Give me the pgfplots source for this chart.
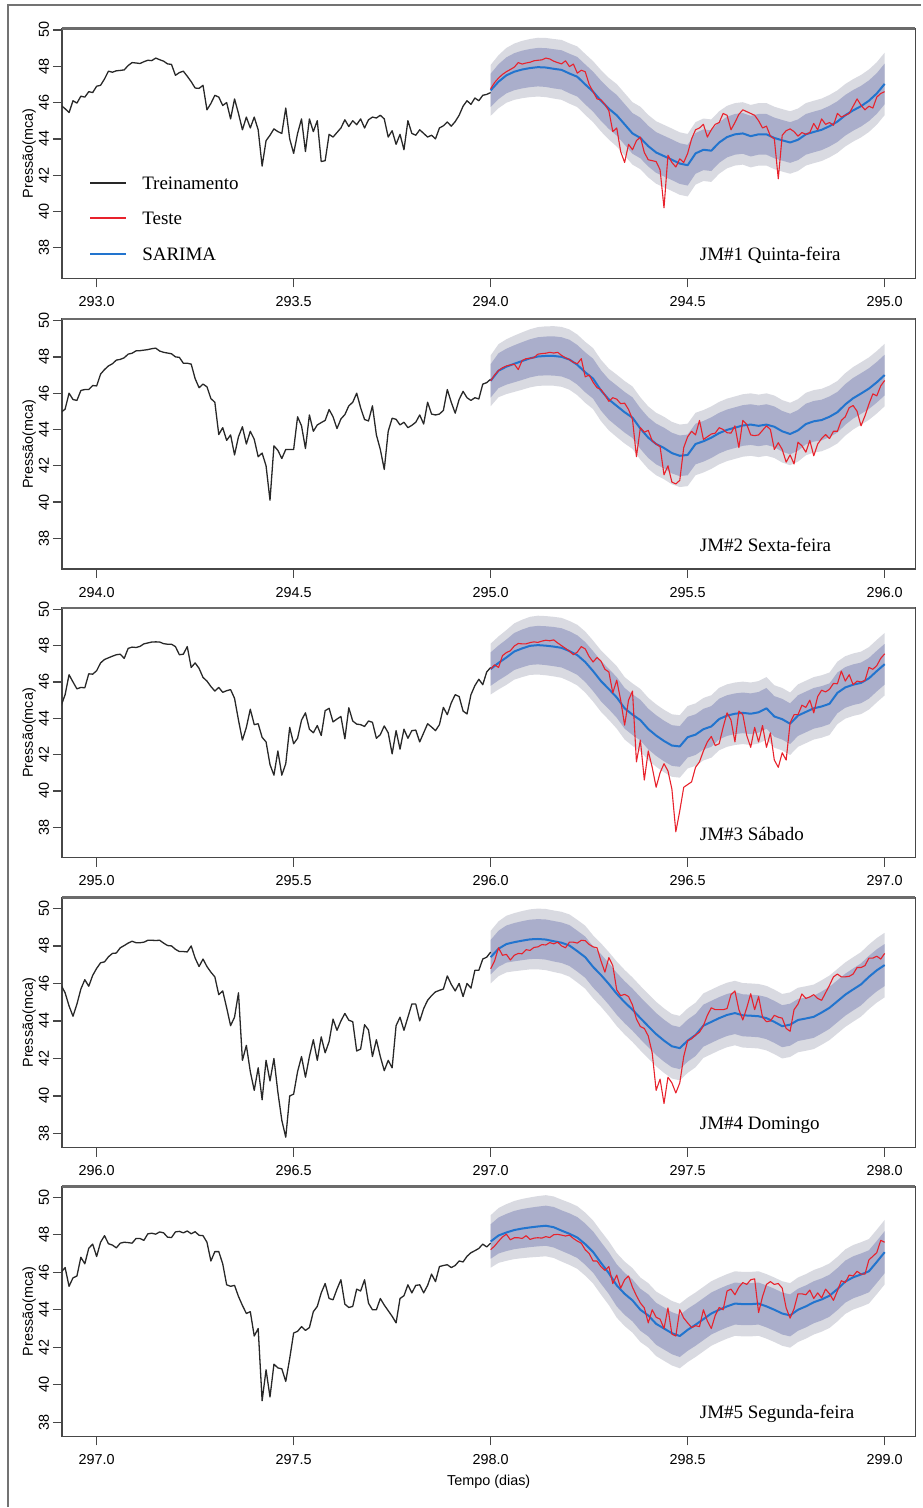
\documentclass[border=0pt]{standalone}
\usepackage{fontspec}
\setmainfont{Liberation Serif}
\newfontfamily\sansfont{Liberation Sans}
\usepackage{pgfplots}
\usepackage{pgfplotstable}
\usepgfplotslibrary{fillbetween}
\pgfplotsset{compat=1.18}

\definecolor{trainc}{RGB}{40,40,40}
\definecolor{testc}{RGB}{232,34,44}
\definecolor{sarimac}{RGB}{34,116,206}
\definecolor{band80}{RGB}{170,174,203}
\definecolor{band95}{RGB}{217,218,225}
\newcommand\ticksize{\sansfont\fontsize{7.2}{8.5}\selectfont}
\newcommand\textsize{\fontsize{9.5}{11}\selectfont}

% forecast tables: mean and 80/95 % limits
\pgfplotstableread{
x f lo95 lo80 hi80 hi95
294.00 46.67 45.27 45.75 47.59 48.07
294.02 47.15 45.69 46.19 48.11 48.61
294.04 47.50 45.99 46.51 48.49 49.01
294.06 47.70 46.15 46.68 48.72 49.25
294.08 47.82 46.24 46.78 48.86 49.40
294.10 47.90 46.30 46.85 48.95 49.50
294.12 47.95 46.33 46.89 49.01 49.57
294.14 47.93 46.30 46.86 49.00 49.56
294.16 47.86 46.22 46.78 48.94 49.50
294.18 47.80 46.15 46.72 48.88 49.45
294.20 47.60 45.94 46.51 48.69 49.26
294.22 47.42 45.75 46.33 48.51 49.09
294.24 47.00 45.32 45.90 48.10 48.68
294.26 46.60 44.92 45.50 47.70 48.28
294.28 46.10 44.41 44.99 47.21 47.79
294.30 45.66 43.96 44.55 46.77 47.36
294.32 45.30 43.58 44.18 46.42 47.02
294.34 44.80 43.08 43.68 45.92 46.52
294.36 44.30 42.58 43.18 45.42 46.02
294.38 44.05 42.33 42.93 45.17 45.77
294.40 43.60 41.88 42.48 44.72 45.32
294.42 43.25 41.53 42.13 44.37 44.97
294.44 43.05 41.33 41.93 44.17 44.77
294.46 42.85 41.13 41.73 43.97 44.57
294.48 42.64 40.92 41.52 43.76 44.36
294.50 42.55 40.83 41.43 43.67 44.27
294.52 43.20 41.48 42.08 44.32 44.92
294.54 43.40 41.68 42.28 44.52 45.12
294.56 43.35 41.63 42.23 44.47 45.07
294.58 43.80 42.08 42.68 44.92 45.52
294.60 44.10 42.38 42.98 45.22 45.82
294.62 44.25 42.53 43.13 45.37 45.97
294.64 44.30 42.58 43.18 45.42 46.02
294.66 44.15 42.43 43.03 45.27 45.87
294.68 44.25 42.53 43.13 45.37 45.97
294.70 44.25 42.53 43.13 45.37 45.97
294.72 44.05 42.33 42.93 45.17 45.77
294.74 43.92 42.20 42.80 45.04 45.64
294.76 43.80 42.08 42.68 44.92 45.52
294.78 43.95 42.23 42.83 45.07 45.67
294.80 44.25 42.53 43.13 45.37 45.97
294.82 44.38 42.66 43.26 45.50 46.10
294.84 44.50 42.78 43.38 45.62 46.22
294.86 44.70 42.98 43.58 45.82 46.42
294.88 44.95 43.23 43.83 46.07 46.67
294.90 45.30 43.58 44.18 46.42 47.02
294.92 45.57 43.85 44.45 46.69 47.29
294.94 45.80 44.08 44.68 46.92 47.52
294.96 46.10 44.38 44.98 47.22 47.82
294.98 46.50 44.78 45.38 47.62 48.22
295.00 47.03 45.31 45.91 48.15 48.75
}\fcA

\pgfplotstableread{
x f lo95 lo80 hi80 hi95
295.00 46.68 45.28 45.76 47.60 48.08
295.02 47.24 45.78 46.28 48.20 48.70
295.04 47.46 45.95 46.47 48.45 48.97
295.06 47.62 46.07 46.60 48.64 49.17
295.08 47.77 46.19 46.73 48.81 49.35
295.10 47.92 46.32 46.87 48.97 49.52
295.12 48.02 46.40 46.96 49.08 49.64
295.14 48.05 46.42 46.98 49.12 49.68
295.16 48.05 46.41 46.97 49.13 49.69
295.18 48.00 46.35 46.92 49.08 49.65
295.20 47.85 46.19 46.76 48.94 49.51
295.22 47.56 45.89 46.47 48.65 49.23
295.24 47.15 45.47 46.05 48.25 48.83
295.26 46.80 45.12 45.70 47.90 48.48
295.28 46.15 44.46 45.04 47.26 47.84
295.30 45.65 43.95 44.54 46.76 47.35
295.32 45.30 43.58 44.18 46.42 47.02
295.34 44.95 43.23 43.83 46.07 46.67
295.36 44.65 42.93 43.53 45.77 46.37
295.38 44.05 42.33 42.93 45.17 45.77
295.40 43.55 41.83 42.43 44.67 45.27
295.42 43.20 41.48 42.08 44.32 44.92
295.44 42.98 41.26 41.86 44.10 44.70
295.46 42.70 40.98 41.58 43.82 44.42
295.48 42.55 40.83 41.43 43.67 44.27
295.50 42.60 40.88 41.48 43.72 44.32
295.52 43.20 41.48 42.08 44.32 44.92
295.54 43.35 41.63 42.23 44.47 45.07
295.56 43.55 41.83 42.43 44.67 45.27
295.58 43.80 42.08 42.68 44.92 45.52
295.60 43.98 42.26 42.86 45.10 45.70
295.62 44.10 42.38 42.98 45.22 45.82
295.64 44.22 42.50 43.10 45.34 45.94
295.66 44.27 42.55 43.15 45.39 45.99
295.68 44.20 42.48 43.08 45.32 45.92
295.70 44.27 42.55 43.15 45.39 45.99
295.72 44.15 42.43 43.03 45.27 45.87
295.74 43.90 42.18 42.78 45.02 45.62
295.76 43.75 42.03 42.63 44.87 45.47
295.78 43.95 42.23 42.83 45.07 45.67
295.80 44.30 42.58 43.18 45.42 46.02
295.82 44.45 42.73 43.33 45.57 46.17
295.84 44.52 42.80 43.40 45.64 46.24
295.86 44.70 42.98 43.58 45.82 46.42
295.88 44.95 43.23 43.83 46.07 46.67
295.90 45.38 43.66 44.26 46.50 47.10
295.92 45.72 44.00 44.60 46.84 47.44
295.94 45.98 44.26 44.86 47.10 47.70
295.96 46.25 44.53 45.13 47.37 47.97
295.98 46.60 44.88 45.48 47.72 48.32
296.00 47.00 45.28 45.88 48.12 48.72
}\fcB

\pgfplotstableread{
x f lo95 lo80 hi80 hi95
296.00 46.71 45.31 45.79 47.63 48.11
296.02 47.05 45.59 46.09 48.01 48.51
296.04 47.35 45.84 46.36 48.34 48.86
296.06 47.68 46.13 46.66 48.70 49.23
296.08 47.85 46.27 46.81 48.89 49.43
296.10 47.99 46.39 46.94 49.04 49.59
296.12 48.03 46.41 46.97 49.09 49.65
296.14 48.00 46.37 46.93 49.07 49.63
296.16 47.95 46.31 46.87 49.03 49.59
296.18 47.88 46.23 46.80 48.96 49.53
296.20 47.70 46.04 46.61 48.79 49.36
296.22 47.48 45.81 46.39 48.57 49.15
296.24 47.10 45.42 46.00 48.20 48.78
296.26 46.60 44.92 45.50 47.70 48.28
296.28 46.05 44.36 44.94 47.16 47.74
296.30 45.61 43.91 44.50 46.72 47.31
296.32 45.15 43.43 44.03 46.27 46.87
296.34 44.55 42.83 43.43 45.67 46.27
296.36 44.20 42.48 43.08 45.32 45.92
296.38 43.90 42.18 42.78 45.02 45.62
296.40 43.41 41.69 42.29 44.53 45.13
296.42 43.05 41.33 41.93 44.17 44.77
296.44 42.75 41.03 41.63 43.87 44.47
296.46 42.50 40.78 41.38 43.62 44.22
296.48 42.45 40.73 41.33 43.57 44.17
296.50 42.96 41.24 41.84 44.08 44.68
296.52 43.10 41.38 41.98 44.22 44.82
296.54 43.40 41.68 42.28 44.52 45.12
296.56 43.55 41.83 42.43 44.67 45.27
296.58 43.96 42.24 42.84 45.08 45.68
296.60 44.15 42.43 43.03 45.27 45.87
296.62 44.25 42.53 43.13 45.37 45.97
296.64 44.30 42.58 43.18 45.42 46.02
296.66 44.25 42.53 43.13 45.37 45.97
296.68 44.33 42.61 43.21 45.45 46.05
296.70 44.55 42.83 43.43 45.67 46.27
296.72 44.10 42.38 42.98 45.22 45.82
296.74 43.95 42.23 42.83 45.07 45.67
296.76 43.70 41.98 42.58 44.82 45.42
296.78 44.15 42.43 43.03 45.27 45.87
296.80 44.35 42.63 43.23 45.47 46.07
296.82 44.55 42.83 43.43 45.67 46.27
296.84 44.65 42.93 43.53 45.77 46.37
296.86 44.80 43.08 43.68 45.92 46.52
296.88 45.40 43.68 44.28 46.52 47.12
296.90 45.70 43.98 44.58 46.82 47.42
296.92 45.85 44.13 44.73 46.97 47.57
296.94 45.95 44.23 44.83 47.07 47.67
296.96 46.20 44.48 45.08 47.32 47.92
296.98 46.60 44.88 45.48 47.72 48.32
297.00 46.98 45.26 45.86 48.10 48.70
}\fcC

\pgfplotstableread{
x f lo95 lo80 hi80 hi95
297.00 47.40 46.00 46.48 48.32 48.80
297.02 47.85 46.39 46.89 48.81 49.31
297.04 48.10 46.59 47.11 49.09 49.61
297.06 48.20 46.65 47.18 49.22 49.75
297.08 48.28 46.70 47.24 49.32 49.86
297.10 48.35 46.75 47.30 49.40 49.95
297.12 48.37 46.75 47.31 49.43 49.99
297.14 48.34 46.71 47.27 49.41 49.97
297.16 48.25 46.61 47.17 49.33 49.89
297.18 48.17 46.52 47.09 49.25 49.82
297.20 48.02 46.36 46.93 49.11 49.68
297.22 47.72 46.05 46.63 48.81 49.39
297.24 47.40 45.72 46.30 48.50 49.08
297.26 46.88 45.20 45.78 47.98 48.56
297.28 46.45 44.76 45.34 47.56 48.14
297.30 45.97 44.27 44.86 47.08 47.67
297.32 45.45 43.73 44.33 46.57 47.17
297.34 45.00 43.28 43.88 46.12 46.72
297.36 44.60 42.88 43.48 45.72 46.32
297.38 44.15 42.43 43.03 45.27 45.87
297.40 43.72 42.00 42.60 44.84 45.44
297.42 43.30 41.58 42.18 44.42 45.02
297.44 42.95 41.23 41.83 44.07 44.67
297.46 42.65 40.93 41.53 43.77 44.37
297.48 42.55 40.83 41.43 43.67 44.27
297.50 42.95 41.23 41.83 44.07 44.67
297.52 43.25 41.53 42.13 44.37 44.97
297.54 43.75 42.03 42.63 44.87 45.47
297.56 43.95 42.23 42.83 45.07 45.67
297.58 44.15 42.43 43.03 45.27 45.87
297.60 44.32 42.60 43.20 45.44 46.04
297.62 44.42 42.70 43.30 45.54 46.14
297.64 44.30 42.58 43.18 45.42 46.02
297.66 44.28 42.56 43.16 45.40 46.00
297.68 44.25 42.53 43.13 45.37 45.97
297.70 44.15 42.43 43.03 45.27 45.87
297.72 43.95 42.23 42.83 45.07 45.67
297.74 43.72 42.00 42.60 44.84 45.44
297.76 43.80 42.08 42.68 44.92 45.52
297.78 44.05 42.33 42.93 45.17 45.77
297.80 44.13 42.41 43.01 45.25 45.85
297.82 44.22 42.50 43.10 45.34 45.94
297.84 44.45 42.73 43.33 45.57 46.17
297.86 44.70 42.98 43.58 45.82 46.42
297.88 45.05 43.33 43.93 46.17 46.77
297.90 45.40 43.68 44.28 46.52 47.12
297.92 45.68 43.96 44.56 46.80 47.40
297.94 45.95 44.23 44.83 47.07 47.67
297.96 46.35 44.63 45.23 47.47 48.07
297.98 46.70 44.98 45.58 47.82 48.42
298.00 46.98 45.26 45.86 48.10 48.70
}\fcD

\pgfplotstableread{
x f lo95 lo80 hi80 hi95
298.00 47.64 46.24 46.72 48.56 49.04
298.02 47.96 46.50 47.00 48.92 49.42
298.04 48.12 46.61 47.13 49.11 49.63
298.06 48.25 46.70 47.23 49.27 49.80
298.08 48.33 46.75 47.29 49.37 49.91
298.10 48.39 46.79 47.34 49.44 49.99
298.12 48.44 46.82 47.38 49.50 50.06
298.14 48.48 46.85 47.41 49.55 50.11
298.16 48.40 46.76 47.32 49.48 50.04
298.18 48.22 46.57 47.14 49.30 49.87
298.20 48.05 46.39 46.96 49.14 49.71
298.22 47.85 46.18 46.76 48.94 49.52
298.24 47.50 45.82 46.40 48.60 49.18
298.26 47.08 45.40 45.98 48.18 48.76
298.28 46.50 44.81 45.39 47.61 48.19
298.30 45.95 44.25 44.84 47.06 47.65
298.32 45.30 43.58 44.18 46.42 47.02
298.34 44.85 43.13 43.73 45.97 46.57
298.36 44.50 42.78 43.38 45.62 46.22
298.38 44.00 42.28 42.88 45.12 45.72
298.40 43.70 41.98 42.58 44.82 45.42
298.42 43.25 41.53 42.13 44.37 44.97
298.44 43.00 41.28 41.88 44.12 44.72
298.46 42.75 41.03 41.63 43.87 44.47
298.48 42.60 40.88 41.48 43.72 44.32
298.50 42.93 41.21 41.81 44.05 44.65
298.52 43.20 41.48 42.08 44.32 44.92
298.54 43.50 41.78 42.38 44.62 45.22
298.56 43.80 42.08 42.68 44.92 45.52
298.58 44.00 42.28 42.88 45.12 45.72
298.60 44.18 42.46 43.06 45.30 45.90
298.62 44.33 42.61 43.21 45.45 46.05
298.64 44.30 42.58 43.18 45.42 46.02
298.66 44.30 42.58 43.18 45.42 46.02
298.68 44.33 42.61 43.21 45.45 46.05
298.70 44.18 42.46 43.06 45.30 45.90
298.72 44.00 42.28 42.88 45.12 45.72
298.74 43.80 42.08 42.68 44.92 45.52
298.76 43.70 41.98 42.58 44.82 45.42
298.78 44.00 42.28 42.88 45.12 45.72
298.80 44.18 42.46 43.06 45.30 45.90
298.82 44.40 42.68 43.28 45.52 46.12
298.84 44.55 42.83 43.43 45.67 46.27
298.86 44.75 43.03 43.63 45.87 46.47
298.88 45.10 43.38 43.98 46.22 46.82
298.90 45.50 43.78 44.38 46.62 47.22
298.92 45.73 44.01 44.61 46.85 47.45
298.94 45.88 44.16 44.76 47.00 47.60
298.96 46.05 44.33 44.93 47.17 47.77
298.98 46.55 44.83 45.43 47.67 48.27
299.00 47.07 45.35 45.95 48.19 48.79
}\fcE

\pgfkeys{/pgf/number format/assume math mode=true}

\pgfplotsset{
  panel/.style={
    width=427pt, height=125pt, scale only axis, anchor=north west,
    axis line style={black!72, line width=0.65pt},
    tick align=outside, major tick length=4.5pt,
    every tick/.style={black!72, line width=0.65pt},
    xtick pos=left, ytick pos=left,
    ytick={38,40,...,50},
    tick label style={font=\ticksize},
    xticklabel style={/pgf/number format/fixed, /pgf/number format/fixed zerofill,
      /pgf/number format/precision=1, /pgf/number format/1000 sep={},
      anchor=north, inner sep=0pt, yshift=-4.4pt},
    yticklabel style={xshift=-1.8pt, rotate=90, anchor=south, inner sep=0pt},
    ylabel={Pressão(mca)},
    ylabel style={font=\ticksize, at={(axis description cs:0,0.5)}, anchor=south, yshift=9.5pt},
    every axis plot/.append style={line join=round},
    extra description/.code={\draw[black!58, line width=1.3pt] (0,1) -- (1,1);},
  },
  train/.style={trainc, line width=0.65pt},
  test/.style={testc, line width=0.55pt},
  fcline/.style={sarimac, line width=1.0pt},
}

% prediction bands of one forecast table
\newcommand\bands[1]{%
  \addplot[draw=none, name path=u95, forget plot] table[x=x, y=hi95] {#1};
  \addplot[draw=none, name path=l95, forget plot] table[x=x, y=lo95] {#1};
  \addplot[draw=none, name path=u80, forget plot] table[x=x, y=hi80] {#1};
  \addplot[draw=none, name path=l80, forget plot] table[x=x, y=lo80] {#1};
  \addplot[fill=band95, draw=none, forget plot] fill between[of=u95 and l95];
  \addplot[fill=band80, draw=none, forget plot] fill between[of=u80 and l80];
}

\begin{document}
\begin{tikzpicture}
\path (0,0) rectangle (461pt,-754pt);
\draw[black!55, line width=1pt] (4pt,-754pt) -- (4pt,-2.5pt) -- (461pt,-2.5pt);

% ---------- JM#1 ----------
\begin{axis}[panel, at={(31pt,-14.25pt)},
  xmin=292.912, xmax=295.078, ymin=36.32, ymax=50.08,
  xtick={293,293.5,...,295},
  legend cell align=left,
  legend style={at={(0,1)}, anchor=north west, xshift=13.5pt, yshift=-72pt,
    draw=none, fill=none, inner sep=0pt, row sep=6pt, column sep=5.5pt,
    font=\textsize},
  legend image code/.code={\draw[#1, line width=1pt] (0pt,0.8pt) -- (18pt,0.8pt);},
]
\bands{\fcA}
\addplot[train, forget plot] coordinates {
(292.91,45.84)(292.92,45.66)(292.93,45.45)(292.94,46.1)(292.95,45.97)(292.96,46.35)(292.97,46.3)(292.98,46.6)(292.99,46.55)
(293.00,46.9)(293.01,46.95)(293.02,47.3)(293.03,47.73)(293.04,47.67)(293.05,47.75)(293.06,47.77)(293.07,47.8)(293.08,48.04)(293.09,48.2)
(293.10,48.18)(293.11,48.15)(293.12,48.25)(293.13,48.33)(293.14,48.31)(293.15,48.45)(293.16,48.36)(293.17,48.28)(293.18,48.13)(293.19,48.1)
(293.20,47.5)(293.21,47.65)(293.22,47.73)(293.23,47.45)(293.24,47.15)(293.25,46.8)(293.26,46.78)(293.27,46.95)(293.28,45.6)(293.29,45.95)
(293.30,46.4)(293.31,46.3)(293.32,45.84)(293.33,46.0)(293.34,45.1)(293.35,46.2)(293.36,45.4)(293.37,44.5)(293.38,45.2)(293.39,44.6)
(293.40,45.2)(293.41,44.5)(293.42,42.5)(293.43,43.9)(293.44,44.2)(293.45,44.55)(293.46,44.4)(293.47,44.3)(293.48,45.7)(293.49,44.0)
(293.50,43.2)(293.51,44.3)(293.52,45.1)(293.53,43.3)(293.54,45.1)(293.55,44.4)(293.56,45.0)(293.57,42.75)(293.58,42.8)(293.59,44.25)
(293.60,44.1)(293.61,44.35)(293.62,44.6)(293.63,45.05)(293.64,44.68)(293.65,45.0)(293.66,44.78)(293.67,45.1)(293.68,44.6)(293.69,45.05)
(293.70,45.2)(293.71,45.15)(293.72,45.3)(293.73,45.1)(293.74,44.1)(293.75,44.45)(293.76,43.7)(293.77,44.25)(293.78,43.4)(293.79,45.0)
(293.80,44.3)(293.81,44.2)(293.82,44.5)(293.83,44.3)(293.84,44.1)(293.85,44.2)(293.86,44.0)(293.87,44.6)(293.88,44.72)(293.89,44.93)
(293.90,44.7)(293.91,44.95)(293.92,45.3)(293.93,45.8)(293.94,46.1)(293.95,45.9)(293.96,46.25)(293.97,46.1)(293.98,46.4)(293.99,46.45)(294.00,46.55)
};
\addplot[fcline, forget plot] table[x=x, y=f] {\fcA};
\addplot[test, forget plot] coordinates {
(294.00,46.76)(294.01,47.1)(294.02,47.35)(294.03,47.55)(294.04,47.7)(294.05,47.82)(294.06,47.95)(294.07,48.2)(294.08,48.12)(294.09,48.18)
(294.10,48.22)(294.11,48.3)(294.12,48.33)(294.13,48.35)(294.14,48.45)(294.15,48.4)(294.16,48.28)(294.17,48.2)(294.18,48.13)(294.19,48.3)
(294.20,47.98)(294.21,48.12)(294.22,47.62)(294.23,47.78)(294.24,47.7)(294.25,47.0)(294.26,46.6)(294.27,46.2)(294.28,46.15)(294.29,45.9)
(294.30,45.55)(294.31,44.4)(294.32,44.6)(294.33,43.3)(294.34,42.7)(294.35,43.7)(294.36,43.4)(294.37,43.9)(294.38,44.1)(294.39,43.25)
(294.40,42.85)(294.41,42.8)(294.42,42.75)(294.43,42.3)(294.44,40.2)(294.45,43.1)(294.46,42.7)(294.47,42.45)(294.48,42.9)(294.49,42.7)
(294.50,43.2)(294.51,44.0)(294.52,44.5)(294.53,44.6)(294.54,44.8)(294.55,44.1)(294.56,44.5)(294.57,44.8)(294.58,44.9)(294.59,45.4)
(294.60,45.3)(294.61,44.5)(294.62,44.9)(294.63,45.35)(294.64,45.6)(294.65,45.5)(294.66,45.4)(294.67,45.3)(294.68,45.0)(294.69,44.6)
(294.70,44.7)(294.71,44.15)(294.72,44.0)(294.73,41.8)(294.74,44.2)(294.75,44.45)(294.76,44.55)(294.77,44.4)(294.78,44.15)(294.79,44.35)
(294.80,44.25)(294.81,44.35)(294.82,44.85)(294.83,44.5)(294.84,45.1)(294.85,44.8)(294.86,44.9)(294.87,44.75)(294.88,45.4)(294.89,45.2)
(294.90,45.3)(294.91,45.4)(294.92,45.8)(294.93,46.2)(294.94,45.85)(294.95,45.6)(294.96,45.8)(294.97,45.7)(294.98,46.3)(294.99,46.5)(295.00,46.6)
};
\addlegendimage{train}
\addlegendentry{Treinamento}
\addlegendimage{test}
\addlegendentry{Teste}
\addlegendimage{fcline}
\addlegendentry{SARIMA}
\node[anchor=base west, font=\textsize, inner sep=0pt] at (axis description cs:0.747,0.071) {JM\#1 Quinta-feira};
\end{axis}

% ---------- JM#2 ----------
\begin{axis}[panel, at={(31pt,-159.65pt)},
  xmin=293.912, xmax=296.078, ymin=36.32, ymax=50.08,
  xtick={294,294.5,...,296},
]
\bands{\fcB}
\addplot[train] coordinates {
(293.91,44.95)(293.92,45.12)(293.93,46.0)(293.94,45.65)(293.95,45.6)(293.96,46.15)(293.97,46.2)(293.98,46.2)(293.99,46.42)
(294.00,46.4)(294.01,47.05)(294.02,47.3)(294.03,47.5)(294.04,47.62)(294.05,47.82)(294.06,47.86)(294.07,47.95)(294.08,48.15)(294.09,48.2)
(294.10,48.33)(294.11,48.34)(294.12,48.37)(294.13,48.4)(294.14,48.45)(294.15,48.48)(294.16,48.32)(294.17,48.25)(294.18,48.21)(294.19,48.17)
(294.20,48.0)(294.21,47.97)(294.22,47.65)(294.23,47.65)(294.24,47.6)(294.25,46.8)(294.26,46.3)(294.27,46.5)(294.28,46.35)(294.29,45.7)
(294.30,45.5)(294.31,43.72)(294.32,44.1)(294.33,43.4)(294.34,43.7)(294.35,42.6)(294.36,43.6)(294.37,44.15)(294.38,43.2)(294.39,43.9)
(294.40,43.46)(294.41,42.5)(294.42,42.7)(294.43,42.0)(294.44,40.1)(294.45,43.1)(294.46,42.85)(294.47,42.4)(294.48,42.9)(294.49,42.9)
(294.50,42.9)(294.51,44.7)(294.52,44.2)(294.53,42.95)(294.54,44.8)(294.55,43.9)(294.56,44.25)(294.57,44.38)(294.58,44.5)(294.59,45.1)
(294.60,44.7)(294.61,44.05)(294.62,44.58)(294.63,44.82)(294.64,45.3)(294.65,45.5)(294.66,46.0)(294.67,45.2)(294.68,44.55)(294.69,44.47)
(294.70,45.3)(294.71,43.7)(294.72,42.9)(294.73,41.8)(294.74,43.9)(294.75,44.62)(294.76,44.56)(294.77,44.25)(294.78,44.4)(294.79,44.1)
(294.80,44.23)(294.81,44.4)(294.82,44.8)(294.83,44.3)(294.84,45.5)(294.85,44.85)(294.86,44.8)(294.87,44.85)(294.88,45.05)(294.89,46.2)
(294.90,45.5)(294.91,44.9)(294.92,45.65)(294.93,46.1)(294.94,45.75)(294.95,45.6)(294.96,45.75)(294.97,45.68)(294.98,46.5)(294.99,46.58)(295.00,46.77)
};
\addplot[fcline] table[x=x, y=f] {\fcB};
\addplot[test] coordinates {
(295.00,46.68)(295.01,47.0)(295.02,47.25)(295.03,47.4)(295.04,47.5)(295.05,47.55)(295.06,47.6)(295.07,47.3)(295.08,47.8)(295.09,47.9)
(295.10,47.92)(295.11,47.96)(295.12,48.15)(295.13,48.18)(295.14,48.2)(295.15,48.25)(295.16,48.21)(295.17,48.25)(295.18,48.08)(295.19,47.95)
(295.20,47.85)(295.21,47.7)(295.22,47.62)(295.23,47.9)(295.24,46.9)(295.25,47.0)(295.26,46.6)(295.27,46.3)(295.28,46.2)(295.29,45.9)
(295.30,45.55)(295.31,45.75)(295.32,45.67)(295.33,45.42)(295.34,45.45)(295.35,45.1)(295.36,44.56)(295.37,42.5)(295.38,44.1)(295.39,43.85)
(295.40,43.95)(295.41,43.38)(295.42,43.2)(295.43,43.05)(295.44,41.5)(295.45,42.0)(295.46,41.1)(295.47,41.0)(295.48,41.2)(295.49,43.0)
(295.50,43.6)(295.51,43.9)(295.52,43.7)(295.53,44.5)(295.54,43.45)(295.55,43.6)(295.56,43.75)(295.57,43.8)(295.58,44.1)(295.59,44.0)
(295.60,43.82)(295.61,43.8)(295.62,44.2)(295.63,43.0)(295.64,44.5)(295.65,44.28)(295.66,43.7)(295.67,43.66)(295.68,43.7)(295.69,43.95)
(295.70,44.2)(295.71,44.0)(295.72,42.9)(295.73,43.27)(295.74,42.9)(295.75,42.2)(295.76,42.6)(295.77,42.1)(295.78,43.3)(295.79,43.1)
(295.80,42.75)(295.81,43.4)(295.82,42.55)(295.83,43.2)(295.84,43.5)(295.85,43.72)(295.86,43.5)(295.87,43.9)(295.88,43.9)(295.89,44.5)
(295.90,44.7)(295.91,45.2)(295.92,45.32)(295.93,45.0)(295.94,44.2)(295.95,44.75)(295.96,45.4)(295.97,45.96)(295.98,45.85)(295.99,46.4)(296.00,46.7)
};
\node[anchor=base west, font=\textsize, inner sep=0pt] at (axis description cs:0.747,0.071) {JM\#2 Sexta-feira};
\end{axis}

% ---------- JM#3 ----------
\begin{axis}[panel, at={(31pt,-304.15pt)},
  xmin=294.912, xmax=297.078, ymin=36.32, ymax=50.08,
  xtick={295,295.5,...,297},
]
\bands{\fcC}
\addplot[train] coordinates {
(294.91,44.7)(294.92,45.3)(294.93,46.4)(294.94,46.0)(294.95,45.62)(294.96,45.7)(294.97,45.68)(294.98,46.45)(294.99,46.43)
(295.00,46.62)(295.01,47.05)(295.02,47.24)(295.03,47.33)(295.04,47.42)(295.05,47.5)(295.06,47.53)(295.07,47.3)(295.08,47.85)(295.09,47.92)
(295.10,47.9)(295.11,47.96)(295.12,48.1)(295.13,48.15)(295.14,48.2)(295.15,48.21)(295.16,48.2)(295.17,48.11)(295.18,48.08)(295.19,48.08)
(295.20,47.95)(295.21,47.5)(295.22,47.53)(295.23,47.95)(295.24,46.8)(295.25,47.05)(295.26,46.75)(295.27,46.25)(295.28,46.05)(295.29,45.75)
(295.30,45.5)(295.31,45.7)(295.32,45.43)(295.33,45.52)(295.34,45.58)(295.35,45.1)(295.36,43.9)(295.37,42.8)(295.38,43.5)(295.39,44.5)
(295.40,43.65)(295.41,43.7)(295.42,42.95)(295.43,42.7)(295.44,41.45)(295.45,40.87)(295.46,42.2)(295.47,40.87)(295.48,41.5)(295.49,43.5)
(295.50,42.6)(295.51,42.9)(295.52,43.9)(295.53,44.3)(295.54,43.4)(295.55,43.2)(295.56,43.6)(295.57,43.05)(295.58,44.42)(295.59,44.55)
(295.60,43.8)(295.61,43.96)(295.62,44.1)(295.63,42.87)(295.64,44.58)(295.65,43.85)(295.66,43.68)(295.67,43.65)(295.68,43.55)(295.69,43.85)
(295.70,43.78)(295.71,42.9)(295.72,43.1)(295.73,43.58)(295.74,43.2)(295.75,42.04)(295.76,43.32)(295.77,42.3)(295.78,43.4)(295.79,42.9)
(295.80,43.32)(295.81,43.35)(295.82,42.7)(295.83,43.2)(295.84,43.7)(295.85,43.52)(295.86,43.32)(295.87,43.65)(295.88,44.6)(295.89,44.2)
(295.90,44.85)(295.91,45.3)(295.92,45.2)(295.93,44.4)(295.94,44.24)(295.95,45.3)(295.96,45.8)(295.97,46.15)(295.98,45.85)(295.99,46.55)(296.00,46.8)
};
\addplot[fcline] table[x=x, y=f] {\fcC};
\addplot[test] coordinates {
(296.00,46.71)(296.01,46.95)(296.02,46.8)(296.03,47.45)(296.04,47.62)(296.05,47.72)(296.06,47.98)(296.07,48.12)(296.08,48.1)(296.09,48.1)
(296.10,48.17)(296.11,48.21)(296.12,48.18)(296.13,48.25)(296.14,48.3)(296.15,48.27)(296.16,48.32)(296.17,48.15)(296.18,48.0)(296.19,47.85)
(296.20,47.7)(296.21,47.5)(296.22,47.65)(296.23,47.95)(296.24,47.82)(296.25,47.4)(296.26,47.1)(296.27,47.35)(296.28,47.15)(296.29,46.7)
(296.30,46.55)(296.31,45.4)(296.32,46.1)(296.33,45.0)(296.34,43.62)(296.35,45.0)(296.36,45.5)(296.37,41.6)(296.38,42.8)(296.39,40.6)
(296.40,42.2)(296.41,41.3)(296.42,40.2)(296.43,41.0)(296.44,41.5)(296.45,41.1)(296.46,40.1)(296.47,37.75)(296.48,38.9)(296.49,40.2)
(296.50,40.35)(296.51,40.5)(296.52,41.3)(296.53,41.6)(296.54,42.2)(296.55,42.7)(296.56,43.0)(296.57,42.5)(296.58,42.6)(296.59,43.5)
(296.60,44.3)(296.61,43.9)(296.62,42.7)(296.63,44.4)(296.64,44.2)(296.65,43.05)(296.66,42.4)(296.67,43.5)(296.68,42.7)(296.69,43.6)
(296.70,42.4)(296.71,43.2)(296.72,41.7)(296.73,41.3)(296.74,42.1)(296.75,41.7)(296.76,43.75)(296.77,44.2)(296.78,44.2)(296.79,44.72)
(296.80,44.6)(296.81,45.0)(296.82,44.3)(296.83,45.2)(296.84,45.55)(296.85,45.45)(296.86,45.6)(296.87,45.92)(296.88,45.9)(296.89,46.6)
(296.90,46.05)(296.91,46.4)(296.92,45.85)(296.93,46.05)(296.94,46.0)(296.95,46.08)(296.96,46.8)(296.97,46.7)(296.98,46.9)(296.99,47.3)(297.00,47.55)
};
\node[anchor=base west, font=\textsize, inner sep=0pt] at (axis description cs:0.747,0.071) {JM\#3 Sábado};
\end{axis}

% ---------- JM#4 ----------
\begin{axis}[panel, at={(31pt,-449.15pt)},
  xmin=295.912, xmax=298.078, ymin=37.25, ymax=50.57,
  xtick={296,296.5,...,298},
]
\bands{\fcD}
\addplot[train] coordinates {
(295.91,45.9)(295.92,45.5)(295.93,44.8)(295.94,44.25)(295.95,44.9)(295.96,45.7)(295.97,46.2)(295.98,45.85)(295.99,46.43)
(296.00,46.8)(296.01,47.1)(296.02,47.15)(296.03,47.42)(296.04,47.6)(296.05,47.62)(296.06,47.9)(296.07,48.02)(296.08,48.15)(296.09,48.25)
(296.10,48.17)(296.11,48.17)(296.12,48.2)(296.13,48.3)(296.14,48.3)(296.15,48.29)(296.16,48.3)(296.17,48.15)(296.18,48.02)(296.19,48.0)
(296.20,47.82)(296.21,47.7)(296.22,47.7)(296.23,47.68)(296.24,48.0)(296.25,47.35)(296.26,46.9)(296.27,47.3)(296.28,46.9)(296.29,46.6)
(296.30,46.35)(296.31,45.4)(296.32,45.6)(296.33,44.7)(296.34,43.75)(296.35,44.2)(296.36,45.5)(296.37,41.9)(296.38,42.7)(296.39,41.3)
(296.40,40.3)(296.41,41.5)(296.42,39.8)(296.43,41.9)(296.44,40.8)(296.45,42.0)(296.46,40.2)(296.47,38.7)(296.48,37.8)(296.49,40.0)
(296.50,40.1)(296.51,41.3)(296.52,42.1)(296.53,41.0)(296.54,42.1)(296.55,43.0)(296.56,41.9)(296.57,43.15)(296.58,42.3)(296.59,42.9)
(296.60,44.1)(296.61,43.5)(296.62,44.0)(296.63,44.4)(296.64,44.04)(296.65,43.96)(296.66,42.4)(296.67,42.5)(296.68,43.8)(296.69,43.52)
(296.70,42.1)(296.71,43.0)(296.72,42.1)(296.73,41.35)(296.74,41.9)(296.75,41.5)(296.76,43.75)(296.77,44.2)(296.78,43.5)(296.79,44.2)
(296.80,44.9)(296.81,44.9)(296.82,44.0)(296.83,44.66)(296.84,45.1)(296.85,45.35)(296.86,45.55)(296.87,45.63)(296.88,45.7)(296.89,46.4)
(296.90,45.95)(296.91,45.6)(296.92,46.0)(296.93,45.3)(296.94,46.0)(296.95,45.75)(296.96,46.7)(296.97,46.7)(296.98,47.3)(296.99,47.4)(297.00,47.67)
};
\addplot[fcline] table[x=x, y=f] {\fcD};
\addplot[test] coordinates {
(297.00,46.78)(297.01,47.2)(297.02,47.9)(297.03,47.5)(297.04,47.55)(297.05,47.25)(297.06,47.5)(297.07,47.6)(297.08,47.58)(297.09,47.8)
(297.10,47.76)(297.11,47.92)(297.12,47.95)(297.13,48.07)(297.14,48.05)(297.15,48.18)(297.16,48.11)(297.17,48.2)(297.18,48.0)(297.19,47.9)
(297.20,48.2)(297.21,48.2)(297.22,48.15)(297.23,48.3)(297.24,48.28)(297.25,48.08)(297.26,47.95)(297.27,47.9)(297.28,47.2)(297.29,46.6)
(297.30,47.38)(297.31,46.95)(297.32,45.65)(297.33,45.35)(297.34,45.42)(297.35,45.3)(297.36,44.85)(297.37,44.1)(297.38,43.7)(297.39,43.6)
(297.40,43.2)(297.41,42.3)(297.42,40.3)(297.43,40.9)(297.44,39.6)(297.45,41.0)(297.46,40.7)(297.47,40.16)(297.48,40.7)(297.49,42.1)
(297.50,42.95)(297.51,43.05)(297.52,43.25)(297.53,43.4)(297.54,43.75)(297.55,44.3)(297.56,44.7)(297.57,44.6)(297.58,44.6)(297.59,44.6)
(297.60,44.66)(297.61,45.4)(297.62,45.6)(297.63,44.6)(297.64,44.05)(297.65,44.7)(297.66,45.45)(297.67,44.6)(297.68,45.3)(297.69,44.2)
(297.70,43.96)(297.71,44.0)(297.72,44.3)(297.73,44.2)(297.74,44.15)(297.75,43.6)(297.76,43.45)(297.77,44.6)(297.78,44.9)(297.79,45.44)
(297.80,45.2)(297.81,45.28)(297.82,45.4)(297.83,45.2)(297.84,45.1)(297.85,45.5)(297.86,45.9)(297.87,46.35)(297.88,46.5)(297.89,46.35)
(297.90,46.35)(297.91,46.38)(297.92,46.5)(297.93,46.85)(297.94,46.85)(297.95,46.95)(297.96,47.35)(297.97,47.35)(297.98,47.45)(297.99,47.3)(298.00,47.6)
};
\node[anchor=base west, font=\textsize, inner sep=0pt] at (axis description cs:0.747,0.071) {JM\#4 Domingo};
\end{axis}

% ---------- JM#5 ----------
\begin{axis}[panel, at={(31pt,-593.65pt)},
  xmin=296.912, xmax=299.078, ymin=37.25, ymax=50.57,
  xtick={297,297.5,...,299},
  xlabel={Tempo (dias)},
  xlabel style={font=\ticksize, at={(axis description cs:0.5,0)}, anchor=center, yshift=-22.5pt},
]
\bands{\fcE}
\addplot[train] coordinates {
(296.91,46.0)(296.92,46.25)(296.93,45.25)(296.94,45.7)(296.95,45.8)(296.96,46.8)(296.97,46.45)(296.98,47.28)(296.99,47.5)
(297.00,46.84)(297.01,47.6)(297.02,47.95)(297.03,47.52)(297.04,47.45)(297.05,47.3)(297.06,47.55)(297.07,47.6)(297.08,47.58)(297.09,47.55)
(297.10,47.8)(297.11,47.8)(297.12,47.7)(297.13,48.05)(297.14,48.08)(297.15,48.03)(297.16,48.15)(297.17,48.1)(297.18,47.87)(297.19,47.85)
(297.20,48.15)(297.21,48.18)(297.22,48.1)(297.23,48.2)(297.24,48.05)(297.25,48.16)(297.26,47.97)(297.27,47.95)(297.28,47.6)(297.29,46.6)
(297.30,47.1)(297.31,47.1)(297.32,46.45)(297.33,45.33)(297.34,45.25)(297.35,45.3)(297.36,44.71)(297.37,44.23)(297.38,43.8)(297.39,43.9)
(297.40,42.6)(297.41,43.0)(297.42,39.15)(297.43,40.8)(297.44,39.35)(297.45,41.1)(297.46,40.9)(297.47,40.85)(297.48,40.18)(297.49,41.4)
(297.50,42.76)(297.51,42.85)(297.52,43.1)(297.53,42.9)(297.54,43.05)(297.55,43.9)(297.56,44.18)(297.57,44.9)(297.58,45.4)(297.59,44.6)
(297.60,44.53)(297.61,45.1)(297.62,45.6)(297.63,44.3)(297.64,44.12)(297.65,44.18)(297.66,45.1)(297.67,45.0)(297.68,45.6)(297.69,44.35)
(297.70,44.0)(297.71,44.0)(297.72,44.6)(297.73,44.25)(297.74,43.95)(297.75,43.65)(297.76,43.3)(297.77,44.6)(297.78,44.75)(297.79,45.33)
(297.80,44.9)(297.81,45.3)(297.82,45.33)(297.83,44.9)(297.84,45.3)(297.85,45.9)(297.86,45.5)(297.87,46.3)(297.88,46.36)(297.89,46.4)
(297.90,46.25)(297.91,46.36)(297.92,46.6)(297.93,46.55)(297.94,46.85)(297.95,47.04)(297.96,47.15)(297.97,47.27)(297.98,47.5)(297.99,47.35)(298.00,47.55)
};
\addplot[fcline] table[x=x, y=f] {\fcE};
\addplot[test] coordinates {
(298.00,47.2)(298.01,47.4)(298.02,47.65)(298.03,47.88)(298.04,48.03)(298.05,47.73)(298.06,47.84)(298.07,47.84)(298.08,47.8)(298.09,47.95)
(298.10,47.75)(298.11,47.82)(298.12,47.84)(298.13,47.82)(298.14,47.9)(298.15,47.85)(298.16,48.0)(298.17,48.02)(298.18,47.98)(298.19,47.93)
(298.20,47.98)(298.21,47.8)(298.22,47.66)(298.23,47.55)(298.24,47.2)(298.25,47.0)(298.26,46.6)(298.27,46.6)(298.28,46.3)(298.29,46.1)
(298.30,46.3)(298.31,45.4)(298.32,45.85)(298.33,45.15)(298.34,45.6)(298.35,45.8)(298.36,45.2)(298.37,44.75)(298.38,44.36)(298.39,44.1)
(298.40,43.3)(298.41,44.0)(298.42,43.6)(298.43,43.5)(298.44,43.0)(298.45,44.1)(298.46,42.7)(298.47,42.6)(298.48,44.0)(298.49,43.56)
(298.50,43.3)(298.51,43.05)(298.52,43.15)(298.53,43.1)(298.54,44.0)(298.55,43.4)(298.56,43.0)(298.57,43.7)(298.58,44.12)(298.59,44.0)
(298.60,45.0)(298.61,45.1)(298.62,44.8)(298.63,45.2)(298.64,45.45)(298.65,45.35)(298.66,45.6)(298.67,45.65)(298.68,43.85)(298.69,44.7)
(298.70,45.35)(298.71,45.5)(298.72,45.35)(298.73,45.4)(298.74,45.15)(298.75,44.1)(298.76,43.55)(298.77,44.05)(298.78,44.85)(298.79,44.85)
(298.80,44.8)(298.81,45.05)(298.82,44.6)(298.83,44.9)(298.84,44.63)(298.85,45.1)(298.86,44.85)(298.87,44.5)(298.88,45.0)(298.89,45.55)
(298.90,45.45)(298.91,45.85)(298.92,45.8)(298.93,46.05)(298.94,45.9)(298.95,45.9)(298.96,46.66)(298.97,46.85)(298.98,47.05)(298.99,47.7)(299.00,47.6)
};
\node[anchor=base west, font=\textsize, inner sep=0pt] at (axis description cs:0.747,0.071) {JM\#5 Segunda-feira};
\end{axis}
\end{tikzpicture}
\end{document}
